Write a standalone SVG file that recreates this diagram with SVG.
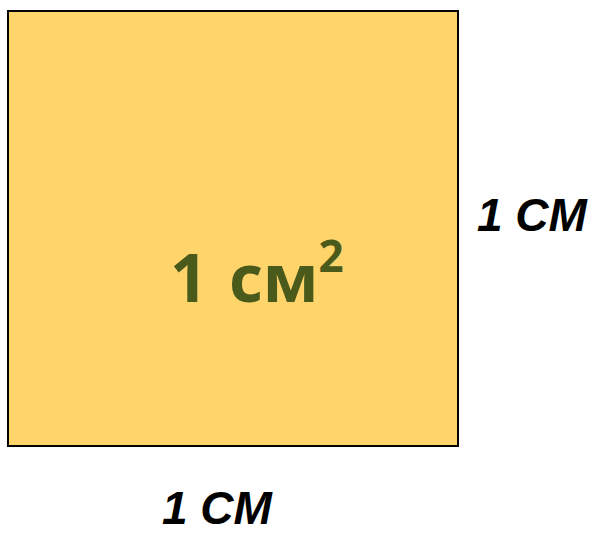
<svg xmlns="http://www.w3.org/2000/svg" width="596" height="534" viewBox="0 0 596 534">
<style>
.lbl{font-family:"Liberation Sans",Arial,sans-serif;font-weight:bold;font-style:italic;font-size:46px;fill:#000}
.area{font-family:"Open Sans","Liberation Sans",sans-serif;font-weight:bold;fill:#4a5a1a}
</style>
<rect fill="#fff" width="596" height="534"/>
<g id="square">
<rect x="8" y="11" width="450" height="435" fill="#fed46b" stroke="#000" stroke-width="2"/>
<text class="area" x="170" y="302" font-size="66">1 <tspan dx="4">см</tspan><tspan font-size="44" dy="-30">2</tspan></text>
</g>
<g id="side-label"><text class="lbl" x="477" y="231">1 СМ</text></g>
<g id="bottom-label"><text class="lbl" x="162" y="524">1 СМ</text></g>
</svg>
